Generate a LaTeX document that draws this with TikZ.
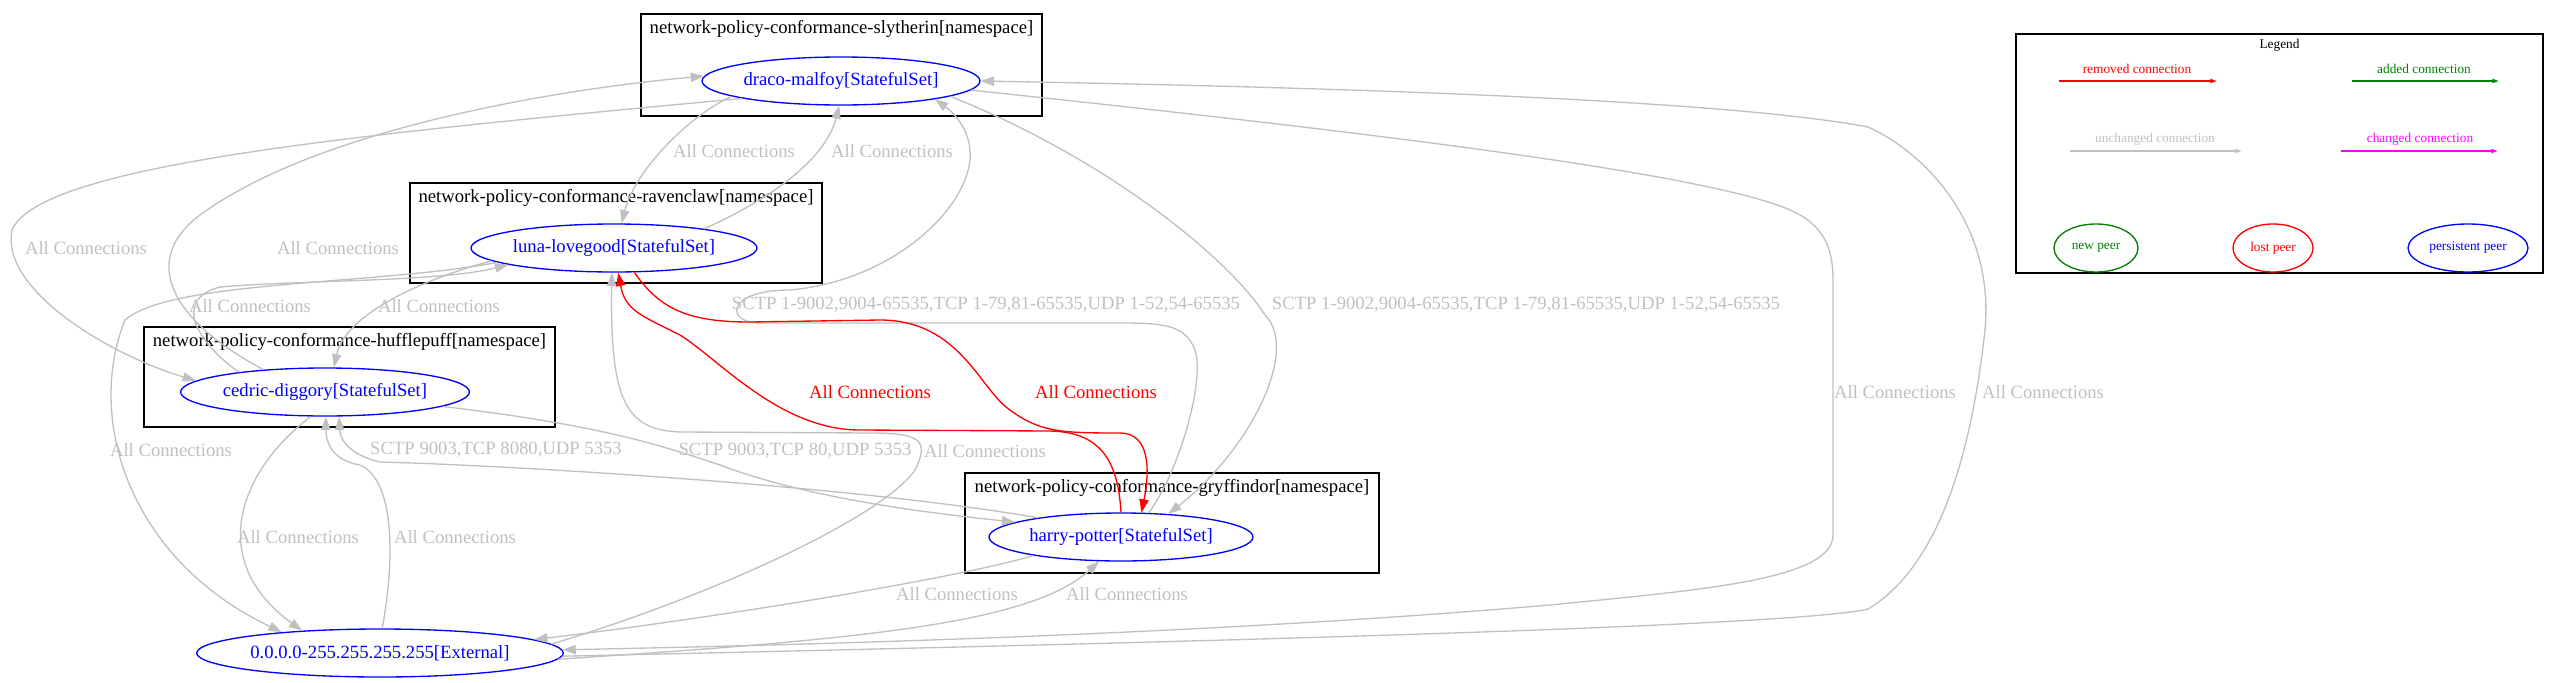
\documentclass[tikz,border=0pt]{standalone}
\usepackage{fontspec}
\setmainfont{Liberation Serif}
\usepackage{tikz}
\usetikzlibrary{positioning,shapes,arrows.meta}
\definecolor{edgegrey}{HTML}{C0C0C0}
\definecolor{peerblue}{HTML}{0000FF}
\definecolor{lostred}{HTML}{FF0000}
\definecolor{newgreen}{HTML}{008000}
\definecolor{chgmagenta}{HTML}{FF00FF}
\tikzstyle{peer}=[%
      ellipse, draw=peerblue, line width=1pt, text=peerblue,
      minimum height=36pt, inner sep=0pt, font=\fontsize{14}{16}\selectfont
]
\tikzstyle{ns}=[%
      rectangle, draw=black, line width=1pt, fill=none, inner sep=0pt
]
\tikzstyle{nstitle}=[%
      inner sep=0pt, font=\fontsize{14}{16}\selectfont
]
\tikzstyle{conn}=[->, draw=edgegrey, line width=1pt]
\tikzstyle{lost}=[->, draw=lostred, line width=1pt]
\tikzstyle{lbl}=[text=edgegrey, inner sep=0pt, font=\fontsize{14}{16}\selectfont]
\tikzstyle{lostlbl}=[lbl, text=lostred]
\tikzstyle{leg}=[inner sep=0pt, font=\fontsize{10}{12}\selectfont]
\tikzstyle{legpeer}=[%
      ellipse, line width=1pt, minimum height=36pt, inner sep=0pt, font=\fontsize{10}{12}\selectfont
]
\tikzstyle{legarrow}=[-{Triangle[length=5pt,width=3pt]}, line width=1.3pt]
\begin{document}
\begin{tikzpicture}[x=0.75pt, y=-0.75pt,
    >={Triangle[length=10pt,width=7pt]}
  ]
    \useasboundingbox (0,0) rectangle (2559,682);

    % namespaces
    \node[ns, minimum width=300.75pt, minimum height=76.5pt] (slytherin)  at (841.5,65)  {};
    \node[ns, minimum width=309pt,    minimum height=75pt]   (ravenclaw)  at (616,233)   {};
    \node[ns, minimum width=308.25pt, minimum height=75pt]   (hufflepuff) at (349.5,377) {};
    \node[ns, minimum width=310.5pt,  minimum height=75pt]   (gryffindor) at (1172,523)  {};
    \node[nstitle] (slytherin-t)  [below=5pt of slytherin.north]  {network-policy-conformance-slytherin[namespace]};
    \node[nstitle] (ravenclaw-t)  [below=5pt of ravenclaw.north]  {network-policy-conformance-ravenclaw[namespace]};
    \node[nstitle] (hufflepuff-t) [below=5pt of hufflepuff.north] {network-policy-conformance-hufflepuff[namespace]};
    \node[nstitle] (gryffindor-t) [below=5pt of gryffindor.north] {network-policy-conformance-gryffindor[namespace]};

    % peers
    \node[peer, minimum width=208.5pt] (draco)  at (841,81)   {draco-malfoy[StatefulSet]};
    \node[peer, minimum width=214.5pt] (luna)   at (614,248)  {luna-lovegood[StatefulSet]};
    \node[peer, minimum width=216pt]   (cedric) at (325,392)  {cedric-diggory[StatefulSet]};
    \node[peer, minimum width=198pt]   (harry)  at (1121,537) {harry-potter[StatefulSet]};
    \node[peer, minimum width=267pt]   (ext)    at (380,653)  {0.0.0.0-255.255.255.255[External]};

    % unchanged connections
    \draw[conn] (draco.188) .. controls (690,115) and (635,170) .. (luna.73);
    \draw[conn] (luna.12) .. controls (790,190) and (828,150) .. (draco.266);
    \draw[conn] (draco.190) .. controls (350,135) and (40,165) .. (12,230)
                .. controls (0,290) and (110,355) .. (cedric.175);
    \draw[conn] (cedric.160) .. controls (170,320) and (140,260) .. (200,215)
                .. controls (330,120) and (600,85) .. (draco.178);
    \draw[conn] (cedric.167) .. controls (200,345) and (170,300) .. (220,287)
                .. controls (300,280) and (440,282) .. (luna.189);
    \draw[conn] (luna.186) .. controls (420,280) and (345,315) .. (cedric.70);
    \draw[conn] (luna.187) .. controls (380,285) and (170,280) .. (125,320)
                .. controls (85,420) and (130,560) .. (ext.168);
    \draw[conn] (cedric.240) .. controls (240,470) and (205,560) .. (ext.164);
    \draw[conn] (ext.85) .. controls (395,560) and (395,480) .. (360,465)
                .. controls (330,460) and (326,440) .. (cedric.272);
    \draw[conn] (harry.167) .. controls (850,485) and (500,465) .. (380,462)
                .. controls (350,455) and (340,440) .. (cedric.300);
    \draw[conn] (cedric.353) .. controls (600,425) and (660,445) .. (720,465)
                .. controls (800,495) and (900,510) .. (harry.172);
    \draw[conn] (ext.3) .. controls (700,600) and (880,520) .. (915,470)
                .. controls (930,440) and (920,433) .. (870,433) -- (680,432)
                .. controls (625,430) and (610,400) .. (luna.265);
    \draw[conn] (harry.192) .. controls (950,580) and (700,620) .. (ext.5);
    \draw[conn] (ext.358) .. controls (850,640) and (1030,625) .. (harry.228);
    \draw[conn] (harry.41) .. controls (1180,470) and (1205,380) .. (1195,350)
                .. controls (1185,325) and (1165,323) .. (1120,323) -- (760,323)
                .. controls (725,323) and (725,290) .. (790,290)
                .. controls (900,280) and (975,200) .. (970,150)
                .. controls (968,125) and (950,110) .. (draco.349);
    \draw[conn] (draco.352) .. controls (1110,160) and (1230,260) .. (1265,315)
                .. controls (1300,350) and (1250,450) .. (harry.26);
    \draw[conn] (draco.356) .. controls (1300,125) and (1700,170) .. (1790,210)
                .. controls (1825,225) and (1833,250) .. (1833,280) -- (1833,535)
                .. controls (1833,580) and (1700,590) .. (1550,605)
                .. controls (1200,635) and (800,645) .. (ext.1);
    \draw[conn] (ext.359) .. controls (1300,640) and (1800,625) .. (1868,609)
                .. controls (1950,560) and (1975,420) .. (1985,330)
                .. controls (1995,220) and (1920,150) .. (1868,127)
                .. controls (1700,95) and (1200,85) .. (draco.0);

    % removed connections
    \draw[lost] (luna.310) .. controls (660,310) and (690,322) .. (750,322) -- (880,320)
                .. controls (960,320) and (980,390) .. (1010,410)
                .. controls (1040,432) and (1060,433) .. (1120,433)
                .. controls (1150,433) and (1150,470) .. (harry.50);
    \draw[lost] (harry.90) .. controls (1118,460) and (1100,432) .. (1050,431) -- (860,430)
                .. controls (780,430) and (720,360) .. (680,335)
                .. controls (640,315) and (625,310) .. (luna.280);

    % edge labels
    \node[lbl] (l-dl) at (734,151)  {All Connections};
    \node[lbl] (l-ld) at (892,151)  {All Connections};
    \node[lbl] (l-dc) at (86,248)   {All Connections};
    \node[lbl] (l-cd) at (338,248)  {All Connections};
    \node[lbl] (l-cl) at (250,306)  {All Connections};
    \node[lbl] (l-lc) at (439,306)  {All Connections};
    \node[lbl] (l-le) at (171,450)  {All Connections};
    \node[lbl] (l-ce) at (298,537)  {All Connections};
    \node[lbl] (l-ec) at (455,537)  {All Connections};
    \node[lbl] (l-hd) at (986,305)  {SCTP 1-9002,9004-65535,TCP 1-79,81-65535,UDP 1-52,54-65535};
    \node[lbl] (l-dh) at (1526,305) {SCTP 1-9002,9004-65535,TCP 1-79,81-65535,UDP 1-52,54-65535};
    \node[lbl] (l-hc) at (496,450)  {SCTP 9003,TCP 8080,UDP 5353};
    \node[lbl] (l-ch) at (795,451)  {SCTP 9003,TCP 80,UDP 5353};
    \node[lbl] (l-el) at (985,451)  {All Connections};
    \node[lbl] (l-he) at (957,594)  {All Connections};
    \node[lbl] (l-eh) at (1127,594) {All Connections};
    \node[lbl] (l-de) at (1895,392) {All Connections};
    \node[lbl] (l-ed) at (2043,392) {All Connections};
    \node[lostlbl] (l-hl) at (870,392)  {All Connections};
    \node[lostlbl] (l-lh) at (1096,392) {All Connections};

    % legend
    \node[ns, minimum width=395.25pt, minimum height=179.25pt] (legend) at (2279.5,153.5) {};
    \node[leg] (legend-t) [below=4pt of legend.north] {Legend};
    \node[leg, text=lostred]    (leg-rm)  at (2137,69)  {removed connection};
    \node[leg, text=newgreen]   (leg-add) at (2424,69)  {added connection};
    \node[leg, text=edgegrey]   (leg-unc) at (2155,139) {unchanged connection};
    \node[leg, text=chgmagenta] (leg-chg) at (2420,139) {changed connection};
    \coordinate (leg-rm-a)  at (2059,81);
    \coordinate (leg-rm-b)  at (2217,81);
    \coordinate (leg-add-a) at (2352,81);
    \coordinate (leg-add-b) at (2499,81);
    \coordinate (leg-unc-a) at (2070,151);
    \coordinate (leg-unc-b) at (2242,151);
    \coordinate (leg-chg-a) at (2341,151);
    \coordinate (leg-chg-b) at (2498,151);
    \draw[legarrow, color=lostred]    (leg-rm-a)  -- (leg-rm-b);
    \draw[legarrow, color=newgreen]   (leg-add-a) -- (leg-add-b);
    \draw[legarrow, color=edgegrey]   (leg-unc-a) -- (leg-unc-b);
    \draw[legarrow, color=chgmagenta] (leg-chg-a) -- (leg-chg-b);
    \node[legpeer, draw=newgreen, text=newgreen, minimum width=63pt] (leg-new)  at (2096,248) {new peer};
    \node[legpeer, draw=lostred,  text=lostred,  minimum width=60pt] (leg-lost) at (2273,248) {lost peer};
    \node[legpeer, draw=peerblue, text=peerblue, minimum width=90pt] (leg-pers) at (2468,248) {persistent peer};

  \end{tikzpicture}
\end{document}
